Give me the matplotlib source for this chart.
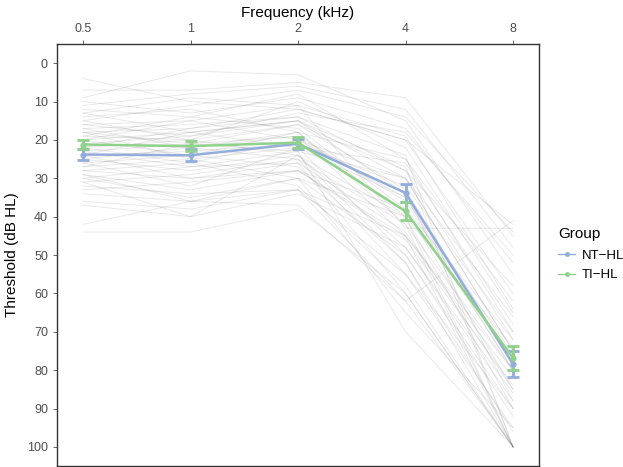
import matplotlib.pyplot as plt
import numpy as np
from matplotlib.lines import Line2D

plt.rcParams['font.family'] = ['Liberation Sans', 'DejaVu Sans']

freq_labels = ['0.5', '1', '2', '4', '8']

# group means and error bar half-widths (dB HL)
nt_mean = [23.8, 24.0, 21.0, 33.8, 78.4]
nt_err = [1.5, 1.6, 1.3, 2.4, 3.4]
ti_mean = [21.2, 21.6, 20.7, 38.6, 76.8]
ti_err = [1.2, 1.4, 1.4, 2.3, 3.2]

# individual audiograms (0.5, 1, 2, 4, 8 kHz)
subjects = [
    [4, 10, 12, 20, 60],
    [7, 7, 5, 9, 45],
    [9, 2, 3, 15, 55],
    [12, 14, 8, 25, 70],
    [13, 18, 15, 30, 75],
    [14, 12, 18, 40, 100],
    [15, 20, 10, 22, 65],
    [16, 15, 20, 35, 80],
    [17, 16, 14, 28, 72],
    [17, 22, 19, 45, 100],
    [18, 17, 12, 20, 42],
    [18, 25, 22, 50, 90],
    [19, 20, 16, 33, 78],
    [19, 14, 17, 38, 85],
    [20, 18, 22, 26, 68],
    [20, 24, 18, 42, 100],
    [21, 22, 25, 55, 95],
    [21, 19, 13, 18, 50],
    [22, 26, 20, 30, 75],
    [22, 20, 24, 48, 88],
    [23, 21, 19, 36, 80],
    [23, 27, 26, 60, 100],
    [24, 23, 21, 32, 70],
    [24, 30, 28, 45, 82],
    [25, 22, 18, 25, 62],
    [25, 28, 24, 40, 90],
    [26, 24, 27, 52, 100],
    [26, 32, 22, 35, 76],
    [27, 25, 30, 65, 95],
    [27, 21, 16, 28, 58],
    [28, 30, 26, 44, 85],
    [28, 26, 32, 58, 100],
    [29, 33, 28, 38, 72],
    [30, 27, 23, 30, 66],
    [30, 35, 30, 50, 92],
    [31, 29, 25, 42, 80],
    [32, 34, 33, 62, 100],
    [33, 31, 28, 46, 84],
    [34, 36, 30, 40, 74],
    [36, 38, 33, 55, 90],
    [37, 40, 34, 48, 86],
    [42, 36, 33, 45, 80],
    [44, 44, 38, 60, 100],
    [11, 8, 6, 12, 48],
    [10, 13, 9, 17, 52],
    [15, 11, 7, 14, 44],
    [20, 15, 11, 43, 43],
    [29, 36, 37, 62, 41],
    [16, 19, 15, 27, 100],
    [22, 17, 14, 24, 100],
    [13, 9, 11, 19, 64],
    [24, 18, 15, 34, 88],
    [18, 21, 23, 70, 100],
    [31, 40, 24, 52, 96],
]

nt_color = '#93ADDB'
ti_color = '#90D18B'

fig = plt.figure(figsize=(6.23, 4.67), dpi=100)
ax = fig.add_axes([0.0915, 0.002, 0.7737, 0.9037])

x = np.arange(len(freq_labels))
for s in subjects:
    ax.plot(x, s, color='#555555', alpha=0.13, lw=0.7, zorder=1)

for mean, err, col in [(nt_mean, nt_err, nt_color), (ti_mean, ti_err, ti_color)]:
    ax.errorbar(x, mean, yerr=err, color=col, lw=1.8, elinewidth=2, capsize=4.5,
                capthick=2, marker='o', ms=3.5, zorder=3)

ax.set_xlim(-0.242, 4.242)
ax.set_ylim(105, -5)
ax.set_xticks(x)
ax.set_xticklabels(freq_labels)
ax.set_yticks(np.arange(0, 101, 10))
ax.xaxis.tick_top()
ax.xaxis.set_label_position('top')
ax.set_xlabel('Frequency (kHz)', fontsize=11, labelpad=4)
ax.set_ylabel('Threshold (dB HL)', fontsize=11, labelpad=6)
ax.tick_params(axis='both', colors='#4D4D4D', labelsize=9, length=3, width=0.6)
ax.tick_params(axis='both', labelcolor='#4D4D4D')
for sp in ax.spines.values():
    sp.set_color('#333333')
    sp.set_linewidth(1.0)

handles = [Line2D([], [], color=nt_color, lw=1, marker='o', ms=2.5),
           Line2D([], [], color=ti_color, lw=1, marker='o', ms=2.5)]
leg = fig.legend(handles, ['NT\u2212HL', 'TI\u2212HL'], title='Group',
                 loc='upper left', bbox_to_anchor=(0.883, 0.53), frameon=False,
                 fontsize=9.5, title_fontsize=11, handlelength=1.3,
                 handletextpad=0.5, labelspacing=0.55, borderaxespad=0.2)
leg._legend_box.align = 'left'
leg._legend_box.sep = 6

fig.savefig('out.png', dpi=100)
